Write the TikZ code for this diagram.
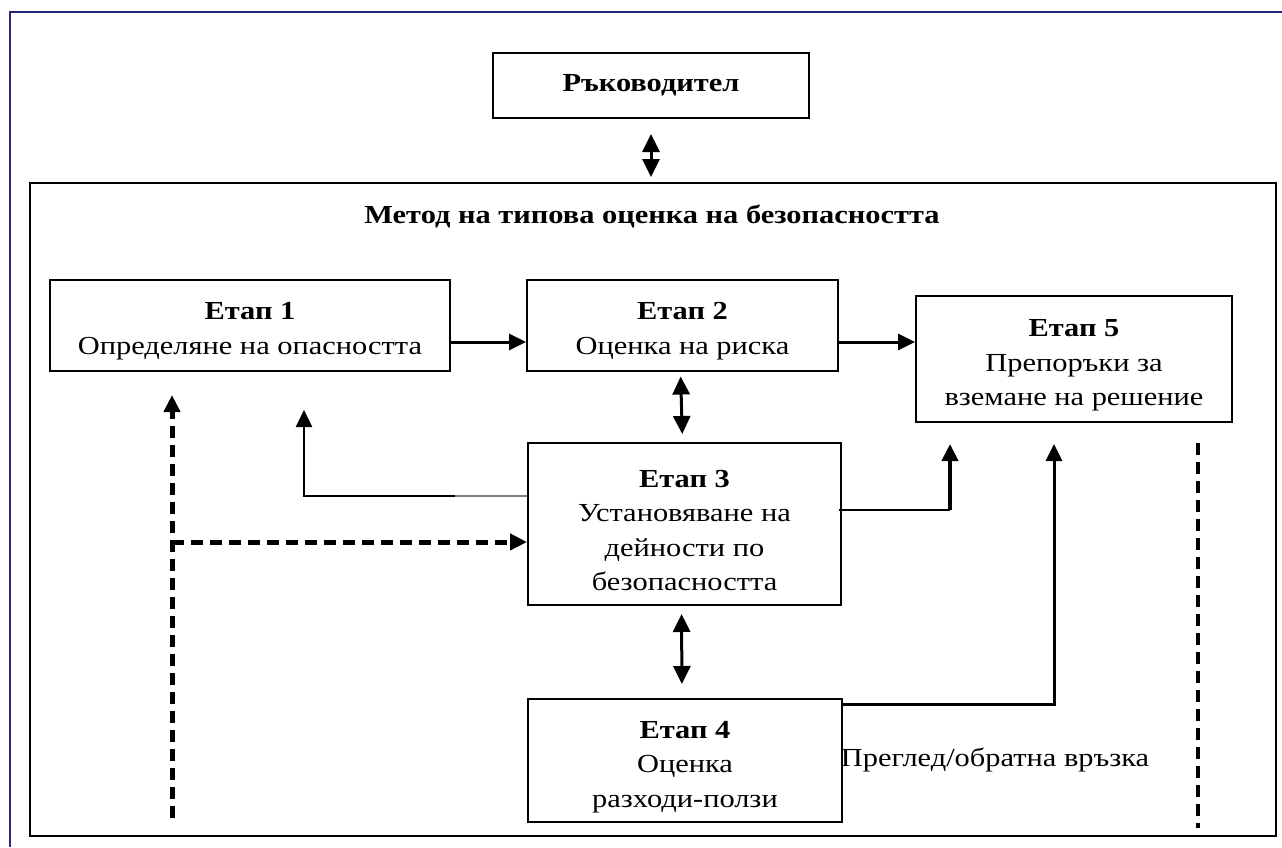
\documentclass[tikz,border=0pt]{standalone}
\usepackage{fontspec}
\setmainfont[FakeStretch=1.17]{Liberation Serif}
\usetikzlibrary{arrows.meta}
\newcommand\txtsize{\fontsize{26}{34.5}\selectfont}
\newcommand\stagehead[1]{\rule{0pt}{30pt}\textbf{#1}}
\begin{document}
\begin{tikzpicture}[x=1pt,y=-1pt,
  box/.style={draw,line width=2pt,rectangle,inner sep=0pt,align=center,font=\txtsize},
  conn/.style={line width=3pt,-{Triangle[length=17pt,width=16pt]}},
  dbl/.style={line width=3pt,{Triangle[length=18pt,width=17pt]}-{Triangle[length=18pt,width=17pt]}},
  dashln/.style={line width=5pt,dash pattern=on 12pt off 7pt},
  lbl/.style={font=\txtsize,inner sep=0pt}]
\fill[white] (0,0) rectangle (1282,847);
\useasboundingbox (0,0) rectangle (1282,847);
\draw[line width=2pt,color={rgb,255:red,40;green,40;blue,120}] (10,847) -- (10,12) -- (1282,12);
% nodes
\node[box,minimum width=316pt,minimum height=65pt] (boss) at (651,85.5) {\textbf{Ръководител}};
\node[box,minimum width=1246pt,minimum height=653pt] (method) at (653,509.5) {};
\node[lbl] (title) at (652,216) {\textbf{Метод на типова оценка на безопасността}};
\node[box,minimum width=400pt,minimum height=91pt] (e1) at (250,325) {\stagehead{Етап 1}\\Определяне на опасността};
\node[box,minimum width=311pt,minimum height=91pt] (e2) at (682.5,325) {\stagehead{Етап 2}\\Оценка на риска};
\node[box,minimum width=316pt,minimum height=126pt] (e5) at (1074,359) {\stagehead{Етап 5}\\Препоръки за\\вземане на решение};
\node[box,minimum width=313pt,minimum height=162pt] (e3) at (684.5,524) {\stagehead{Етап 3}\\Установяване на\\дейности по\\безопасността};
\node[box,minimum width=314pt,minimum height=123pt] (e4) at (685,760.5) {\stagehead{Етап 4}\\Оценка\\разходи-ползи};
\node[lbl] (fb) at (995,760) {Преглед/обратна връзка};
% helper coordinates
\coordinate (y342) at (0,342);
\coordinate (y496) at (0,496);
\coordinate (g1) at (455,496);
\coordinate (c1) at (304,410);
\coordinate (d1) at (172,818);
\coordinate (d2) at (172,395);
\coordinate (y542) at (0,542);
\coordinate (k1) at (950,510);
\coordinate (k2) at (1054,704);
\coordinate (r1) at (1198,443);
\coordinate (r2) at (1198,828);
% connectors
\draw[dbl,shorten <=15pt,shorten >=5pt] (boss.south) -- (method.north -| boss.south);
\draw[conn] (e1.east |- y342) -- (e2.west |- y342);
\draw[conn] (e2.east |- y342) -- (e5.west |- y342);
\draw[dbl,shorten <=5pt,shorten >=8pt] ([xshift=-2pt]e2.south) -- ([xshift=-2pt]e3.north);
\draw[line width=1.2pt,gray] (e3.west |- y496) -- (g1);
\draw[conn,line width=2.5pt] (g1) -| (c1);
\draw[dashln,-{Triangle[length=17pt,width=16pt]}] (d1) -- (d2);
\draw[dashln,-{Triangle[length=17pt,width=16pt]}] (d1 |- y542) -- (e3.west |- y542);
\draw[line width=1.5pt] ([xshift=-3pt]e3.east |- k1) -- (k1);
\draw[conn,line width=4pt,shorten >=21pt] (k1) -- (e5.south -| k1);
\draw[conn,shorten >=21pt] (e4.east |- k2) -| (e5.south -| k2);
\draw[dbl,shorten <=8pt,shorten >=14pt] ([xshift=-3pt]e3.south) -- ([xshift=-3pt]e4.north);
\draw[dashln,line width=4pt] (r1) -- (r2);
\end{tikzpicture}
\end{document}
